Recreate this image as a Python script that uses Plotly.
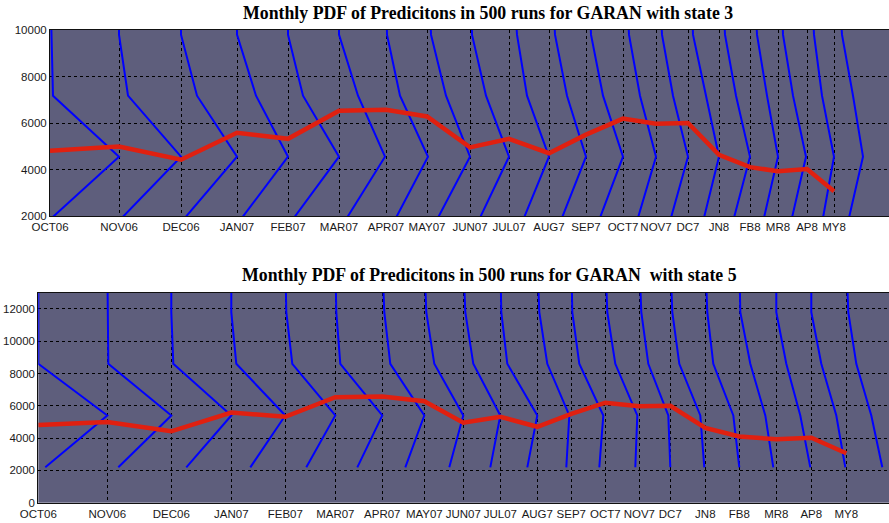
import plotly.graph_objects as go

# ---------------- data ----------------
months = ["OCT06", "NOV06", "DEC06", "JAN07", "FEB07", "MAR07", "APR07", "MAY07",
          "JUN07", "JUL07", "AUG7", "SEP7", "OCT7", "NOV7", "DC7", "JN8", "FB8",
          "MR8", "AP8", "MY8"]

# x position of each month on the horizontal axis (cumulative PDF widths)
month_x_s3 = [0, 69, 131, 187, 238, 289, 336, 377, 420, 459, 499, 536, 573, 606,
              638, 669, 700, 728, 757, 784]
month_x_s5 = [0, 69, 133, 193, 247, 297, 344, 386, 425, 462, 499, 533, 567, 601,
              632, 667, 701, 738, 773, 808]

# red line: monthly value
actual_price = [4810, 4990, 4420, 5580, 5320, 6530, 6570, 6280, 4950, 5320, 4700,
                5500, 6190, 5970, 6000, 4630, 4100, 3930, 4020, 3060]

# y ticks
yticks_s3 = [2000, 4000, 6000, 8000, 10000]
yticks_s5 = [0, 2000, 4000, 6000, 8000, 10000, 12000]

# PDF bins (price levels) and densities (horizontal extent) per month
bins_s3 = [1925, 4550, 7175, 9800, 12425]
pdf_s3 = [
    [2, 69, 3, 0, 0], [3, 62, 9, 0, 0], [4, 56, 16, 0, 0], [5, 51, 19, 0, 0],
    [6, 51, 15, 0, 0], [8, 46, 19, 0, 0], [10, 42, 14, 1, 0], [11, 43, 19, 4, 2],
    [10, 39, 16, 2, 1], [15, 40, 18, 8, 4], [13, 37, 18, 6, 3], [14, 37, 17, 5, 3],
    [15, 33, 17, 6, 3], [15, 32, 17, 6, 3], [16, 31, 18, 5, 3], [15, 31, 17, 6, 3],
    [14, 28, 17, 7, 4], [14, 28, 15, 5, 3], [16, 27, 15, 7, 4], [15, 29, 19, 8, 4],
]

bins_s5 = [2190, 5400, 8600, 11800, 15000]
pdf_s5 = [
    [7, 69, 0, 0, 0], [11, 64, 1, 0, 0], [15, 60, 2, 0, 0], [19, 54, 5, 0, 0],
    [21, 50, 7, 1, 0], [22, 47, 5, 1, 0], [23, 42, 8, 2, 0], [25, 39, 10, 2, 0],
    [27, 37, 10, 2, 0], [27, 37, 7, 1, 0], [29, 32, 10, 2, 0], [28, 32, 8, 1, 0],
    [30, 32, 10, 2, 0], [31, 29, 9, 2, 0], [34, 30, 9, 2, 0], [34, 28, 8, 2, 0],
    [34, 26, 11, 1, 0], [34, 24, 10, 0, 0], [34, 25, 10, 0, 0], [36, 25, 10, 2, 0],
]

title_s3 = "Monthly PDF of Predicitons in 500 runs for GARAN with state 3"
title_s5 = "Monthly PDF of Predicitons in 500 runs for GARAN\u00a0 with state 5"

# ---------------- styling ----------------
W, H = 889, 523
BG = "#5E5E7C"
BLUE = "#0000FF"
RED = "#E02010"
TICKFONT = dict(family="Liberation Sans, Arial, sans-serif", size=11.5, color="#1a1a1a")
TITLEFONT = dict(family="Liberation Serif, Times New Roman, serif", size=17.8, color="black")

fig = go.Figure()

def add_panel(xs, bins, pdfs, xa, ya):
    for x0, dens in zip(xs, pdfs):
        fig.add_trace(go.Scatter(
            x=[x0 + d for d in dens], y=bins, mode="lines",
            line=dict(color=BLUE, width=2), xaxis=xa, yaxis=ya,
            showlegend=False, hoverinfo="skip"))
    fig.add_trace(go.Scatter(
        x=xs, y=actual_price, mode="lines",
        line=dict(color=RED, width=4.5), xaxis=xa, yaxis=ya,
        showlegend=False))

add_panel(month_x_s3, bins_s3, pdf_s3, "x", "y")
add_panel(month_x_s5, bins_s5, pdf_s5, "x2", "y2")

def px_x(p):
    return p / W

def px_y(p):
    return 1 - p / H

common_x = dict(showgrid=True, gridcolor="black", griddash="dot", gridwidth=1,
                showline=True, linecolor="#111", linewidth=1, mirror=True,
                ticks="", tickangle=0, tickfont=TICKFONT, zeroline=False,
                ticktext=months, automargin=False)
common_y = dict(showgrid=True, gridcolor="black", griddash="dot", gridwidth=1,
                showline=True, linecolor="#111", linewidth=1, mirror=False,
                ticks="", tickfont=TICKFONT, zeroline=False, automargin=False)

fig.update_layout(
    width=W, height=H,
    margin=dict(l=0, r=0, t=0, b=0),
    paper_bgcolor="white", plot_bgcolor=BG,
    xaxis=dict(common_x, domain=[px_x(50), 1], range=[0, 839],
               tickvals=month_x_s3, anchor="y"),
    yaxis=dict(common_y, domain=[px_y(216), px_y(30)], range=[2000, 10000],
               tickvals=yticks_s3, ticktext=[str(v) for v in yticks_s3], anchor="x"),
    xaxis2=dict(common_x, domain=[px_x(38.3), 1], range=[0, 850.7],
                tickvals=month_x_s5, anchor="y2"),
    yaxis2=dict(common_y, domain=[px_y(502.7), px_y(292.7)], range=[0, 13000],
                tickvals=yticks_s5, ticktext=[str(v) for v in yticks_s5], anchor="x2"),
    annotations=[
        dict(text="<b>" + title_s3 + "</b>", x=px_x(488), y=px_y(13),
             xref="paper", yref="paper", showarrow=False,
             xanchor="center", yanchor="middle", font=TITLEFONT),
        dict(text="<b>" + title_s5 + "</b>", x=px_x(489), y=px_y(275),
             xref="paper", yref="paper", showarrow=False,
             xanchor="center", yanchor="middle", font=TITLEFONT),
    ],
)

fig.write_html("out.html")
